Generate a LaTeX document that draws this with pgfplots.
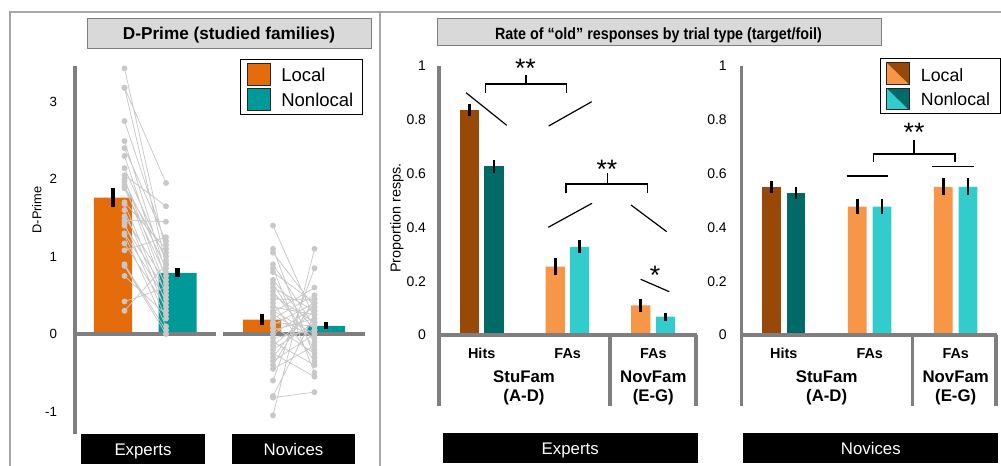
\documentclass[border=0pt]{standalone}
\usepackage{fontspec}
\setmainfont{Liberation Sans}
\newfontfamily\narrowfont[FakeStretch=0.88]{Liberation Sans}
\usepackage{pgfplots}
\pgfplotsset{compat=1.18}
\definecolor{orL}{HTML}{E46C0A}
\definecolor{tlL}{HTML}{009999}
\definecolor{hitL}{HTML}{984807}
\definecolor{hitN}{HTML}{006B66}
\definecolor{faL}{HTML}{F79646}
\definecolor{faN}{HTML}{33CCCC}
\definecolor{axg}{HTML}{7F7F7F}
\definecolor{ptg}{HTML}{C8C8C8}
\definecolor{frameg}{HTML}{A6A6A6}
\definecolor{titleg}{HTML}{D9D9D9}
\newcommand{\fs}[1]{\fontsize{#1}{#1}\selectfont}
\pgfplotsset{
  barL/.style={ybar, bar shift=0pt, draw=none,
    error bars/y dir=both, error bars/y explicit, error bars/error mark=none},
  eb/.style={error bars/error bar style={line width=#1, black}},
  panel/.style={anchor=south west, scale only axis, clip=false,
    axis line style={draw=none}, xtick=\empty, ytick pos=left,
    major tick length=0pt, /pgf/number format/assume math mode=true},
}
\tikzset{px/.style={x=0.75pt, y=-0.75pt, shift={(0pt,349.5pt)}}}
\begin{document}
\begin{tikzpicture}
\path[use as bounding box] (0pt,0pt) rectangle (750.75pt,349.5pt);
\fill[white] (0pt,0pt) rectangle (750.75pt,349.5pt);
\begin{scope}[px]
% frames
\draw[frameg, line width=1.1pt] (10,466) -- (10,12) -- (1001,12);
\draw[frameg, line width=1.1pt] (380,12) -- (380,466);
% titles
\draw[axg, fill=titleg, line width=0.75pt] (87,19) rectangle (371,49);
\node[anchor=base, inner sep=0] at (229,40) {\fs{12.9}\bfseries D-Prime (studied families)};
\draw[axg, fill=titleg, line width=0.75pt] (437,19) rectangle (881,46);
\node[anchor=base, inner sep=0] at (658.5,40) {\narrowfont\bfseries\fs{12.2}Rate of “old” responses by trial type (target/foil)};
\end{scope}

% ---------------- Left axis: D-prime ----------------
\begin{axis}[panel, at={(56.25pt,24pt)},
  width=225pt, height=276pt,
  xmin=75, xmax=375, ymin=-1.29, ymax=3.46,
  ytick={-1,0,1,2,3},
  yticklabel style={font=\fs{10}, xshift=-10pt},
  ylabel={D-Prime},
  ylabel style={font=\fs{9.6}, at={(axis description cs:-0.127,0.609)}, anchor=center}]
\draw[axg, line width=3pt] (axis cs:75,-1.29) -- (axis cs:75,3.46);
\addplot[barL, bar width=38, fill=orL, eb=3.2pt]
  coordinates {(113,1.76) +- (0,0.125) (262,0.185) +- (0,0.07)};
\addplot[barL, bar width=38, fill=tlL, eb=3.2pt]
  coordinates {(177.5,0.79) +- (0,0.06) (326,0.105) +- (0,0.045)};
\draw[axg, line width=3pt] (axis cs:75,0) -- (axis cs:216,0);
\draw[axg, line width=3pt] (axis cs:223,0) -- (axis cs:365,0);
% individual participants (experts)
\addplot[ptg, line width=0.55pt, mark=*, mark size=1.9pt,
  mark options={fill=ptg, draw=none}, unbounded coords=jump] coordinates {
(124.5,3.43) (166,1.05) (124.5,nan)
(124.5,3.18) (166,1.95) (124.5,nan)
(124.5,3.18) (166,0.90) (124.5,nan)
(124.5,2.75) (166,1.15) (124.5,nan)
(124.5,2.49) (166,0.80) (124.5,nan)
(124.5,2.40) (166,1.20) (124.5,nan)
(124.5,2.30) (166,0.70) (124.5,nan)
(124.5,2.14) (166,0.95) (124.5,nan)
(124.5,2.05) (166,1.65) (124.5,nan)
(124.5,2.00) (166,0.60) (124.5,nan)
(124.5,1.97) (166,0.85) (124.5,nan)
(124.5,1.93) (166,0.50) (124.5,nan)
(124.5,1.90) (166,1.00) (124.5,nan)
(124.5,1.88) (166,0.75) (124.5,nan)
(124.5,1.70) (166,1.10) (124.5,nan)
(124.5,1.68) (166,0.40) (124.5,nan)
(124.5,1.60) (166,0.30) (124.5,nan)
(124.5,1.52) (166,0.65) (124.5,nan)
(124.5,1.47) (166,1.45) (124.5,nan)
(124.5,1.43) (166,0.20) (124.5,nan)
(124.5,1.40) (166,0.55) (124.5,nan)
(124.5,1.30) (166,0.45) (124.5,nan)
(124.5,1.28) (166,0.10) (124.5,nan)
(124.5,1.17) (166,0.35) (124.5,nan)
(124.5,1.08) (166,1.25) (124.5,nan)
(124.5,0.90) (166,0.05) (124.5,nan)
(124.5,0.88) (166,0.00) (124.5,nan)
(124.5,0.75) (166,0.25) (124.5,nan)
(124.5,0.42) (166,0.60) (124.5,nan)
(124.5,0.30) (166,0.90)
};
% individual participants (novices)
\addplot[ptg, line width=0.55pt, mark=*, mark size=1.9pt,
  mark options={fill=ptg, draw=none}, unbounded coords=jump] coordinates {
(273,1.40) (314.5,0.20) (273,nan)
(273,1.10) (314.5,-0.30) (273,nan)
(273,1.05) (314.5,0.35) (273,nan)
(273,0.90) (314.5,0.10) (273,nan)
(273,0.85) (314.5,-0.50) (273,nan)
(273,0.80) (314.5,0.40) (273,nan)
(273,0.70) (314.5,0.05) (273,nan)
(273,0.65) (314.5,-0.20) (273,nan)
(273,0.60) (314.5,0.30) (273,nan)
(273,0.55) (314.5,-0.10) (273,nan)
(273,0.50) (314.5,0.15) (273,nan)
(273,0.45) (314.5,0.45) (273,nan)
(273,0.40) (314.5,-0.35) (273,nan)
(273,0.35) (314.5,0.25) (273,nan)
(273,0.30) (314.5,0.00) (273,nan)
(273,0.28) (314.5,0.60) (273,nan)
(273,0.25) (314.5,-0.05) (273,nan)
(273,0.20) (314.5,0.50) (273,nan)
(273,0.15) (314.5,0.10) (273,nan)
(273,0.10) (314.5,-0.25) (273,nan)
(273,0.05) (314.5,0.20) (273,nan)
(273,0.00) (314.5,0.35) (273,nan)
(273,-0.05) (314.5,0.05) (273,nan)
(273,-0.10) (314.5,-0.40) (273,nan)
(273,-0.15) (314.5,0.30) (273,nan)
(273,-0.20) (314.5,0.15) (273,nan)
(273,-0.25) (314.5,-0.55) (273,nan)
(273,-0.30) (314.5,0.40) (273,nan)
(273,-0.35) (314.5,0.00) (273,nan)
(273,-0.40) (314.5,0.45) (273,nan)
(273,-0.45) (314.5,-0.15) (273,nan)
(273,-0.60) (314.5,0.85) (273,nan)
(273,-0.80) (314.5,0.25) (273,nan)
(273,-0.82) (314.5,-0.75) (273,nan)
(273,-1.05) (314.5,1.10) (273,nan)
(273,0.12) (314.5,0.40)
};
\end{axis}

% ---------------- Middle axis: Experts proportions ----------------
\begin{axis}[panel, at={(329.25pt,45pt)},
  width=195.75pt, height=255pt,
  xmin=439, xmax=700, ymin=-0.2639, ymax=1,
  ytick={0,0.2,0.4,0.6,0.8,1}, yticklabels={0,0.2,0.4,0.6,0.8,1},
  yticklabel style={font=\fs{10.5}, xshift=-6.2pt},
  ylabel={Proportion resps.},
  ylabel style={font=\fs{10.8}, at={(axis description cs:-0.161,0.553)}, anchor=center}]
\addplot[barL, bar width=19.3, fill=hitL, eb=2.2pt]
  coordinates {(469.5,0.836) +- (0,0.022)};
\addplot[barL, bar width=19.3, fill=hitN, eb=2.2pt]
  coordinates {(494,0.628) +- (0,0.024)};
\addplot[barL, bar width=19.3, fill=faL, eb=2.2pt]
  coordinates {(555.3,0.254) +- (0,0.031) (640.8,0.110) +- (0,0.023)};
\addplot[barL, bar width=19.3, fill=faN, eb=2.2pt]
  coordinates {(579.5,0.328) +- (0,0.025) (665.5,0.068) +- (0,0.015)};
\draw[axg, line width=2.3pt] (axis cs:439,-0.2639) -- (axis cs:439,1);
\draw[axg, line width=2.3pt] (axis cs:439,0) -- (axis cs:697,0);
\draw[axg, line width=2.3pt] (axis cs:610,0) -- (axis cs:610,-0.2639);
\draw[axg, line width=2.3pt] (axis cs:696,0) -- (axis cs:696,-0.2639);
\end{axis}

% ---------------- Right axis: Novices proportions ----------------
\begin{axis}[panel, at={(556.275pt,45pt)},
  width=193.7pt, height=255pt,
  xmin=741.7, xmax=1000, ymin=-0.2639, ymax=1,
  ytick={0,0.2,0.4,0.6,0.8,1}, yticklabels={0,0.2,0.4,0.6,0.8,1},
  yticklabel style={font=\fs{10.5}, xshift=-7.7pt}]
\addplot[barL, bar width=18.8, fill=hitL, eb=2.2pt]
  coordinates {(771.7,0.551) +- (0,0.022)};
\addplot[barL, bar width=18.8, fill=hitN, eb=2.2pt]
  coordinates {(796,0.528) +- (0,0.022)};
\addplot[barL, bar width=18.8, fill=faL, eb=2.2pt]
  coordinates {(857.3,0.477) +- (0,0.029) (943.3,0.551) +- (0,0.031)};
\addplot[barL, bar width=18.8, fill=faN, eb=2.2pt]
  coordinates {(882,0.477) +- (0,0.029) (968,0.551) +- (0,0.032)};
\draw[axg, line width=2.3pt] (axis cs:741.7,-0.2639) -- (axis cs:741.7,1);
\draw[axg, line width=2.3pt] (axis cs:741.7,0) -- (axis cs:996.7,0);
\draw[axg, line width=2.3pt] (axis cs:912.3,0) -- (axis cs:912.3,-0.2639);
\draw[axg, line width=2.3pt] (axis cs:996,0) -- (axis cs:996,-0.2639);
\end{axis}

\begin{scope}[px]
% left legend
\draw[black, line width=0.75pt, fill=white] (240,60) rectangle (362,115);
\draw[black!85, line width=0.75pt, fill=orL] (247,64) rectangle (270,86);
\draw[black!85, line width=0.75pt, fill=tlL] (247,89) rectangle (270,111);
\node[anchor=base west, inner sep=0] at (281,81.7) {\fs{13.9}Local};
\node[anchor=base west, inner sep=0] at (281,107) {\fs{13.9}Nonlocal};

% category labels
\foreach \x/\t in {481.7/Hits, 567.7/FAs, 653.3/FAs, 783.8/Hits, 869.7/FAs, 955.7/FAs}
  \node[anchor=base, inner sep=0] at (\x,358.3) {\fs{10.8}\bfseries \t};
\foreach \x/\a/\b in {524/StuFam/(A-D), 653.3/NovFam/(E-G), 826.7/StuFam/(A-D), 955.7/NovFam/(E-G)}{
  \node[anchor=base, inner sep=0] at (\x,382.7) {\fs{12.6}\bfseries \a};
  \node[anchor=base, inner sep=0] at (\x,401.7) {\fs{12.6}\bfseries \b};
}

% significance annotations
\begin{scope}[line width=0.9pt, black]
\draw (466,92.7) -- (506.7,125.3);
\draw (548.7,126) -- (591.7,101.7);
\draw (485.7,92.7) -- (485.7,84) -- (566.7,84) -- (566.7,92.7);
\draw (526,84) -- (526,75);
\draw (548.3,227.3) -- (592,203.3);
\draw (631,205) -- (666.7,231.7);
\draw (566,193.3) -- (566,184) -- (647.7,184) -- (647.7,193.3);
\draw (607.3,184) -- (607.3,173.3);
\draw (640.7,279.3) -- (669.3,291.7);
\draw (846.7,176) -- (888.3,176);
\draw (932.3,166.7) -- (974.3,166.7);
\draw (873.3,162) -- (873.3,154) -- (955,154) -- (955,162);
\draw (914,154) -- (914,140);
\end{scope}
\node[anchor=base, inner sep=0] at (525.5,77.5) {\fs{20}**};
\node[anchor=base, inner sep=0] at (607,179) {\fs{20}**};
\node[anchor=base, inner sep=0] at (655,285) {\fs{20}*};
\node[anchor=base, inner sep=0] at (914,141.7) {\fs{20}**};

% right legend
\draw[black, line width=0.75pt, fill=white] (880,59) rectangle (1000,114);
\fill[faL] (886.7,62.7) -- (886.7,84.3) -- (909,84.3) -- cycle;
\fill[hitL] (886.7,62.7) -- (909,62.7) -- (909,84.3) -- cycle;
\draw[black!85, line width=0.75pt] (886.7,62.7) rectangle (909,84.3);
\fill[faN] (886.7,88.3) -- (886.7,110) -- (909,110) -- cycle;
\fill[hitN] (886.7,88.3) -- (909,88.3) -- (909,110) -- cycle;
\draw[black!85, line width=0.75pt] (886.7,88.3) rectangle (909,110);
\node[anchor=base west, inner sep=0] at (920.7,81.7) {\fs{13.3}Local};
\node[anchor=base west, inner sep=0] at (920.7,106) {\fs{13.3}Nonlocal};

% group boxes
\fill[black] (81,434) rectangle (205,464);
\node[anchor=base, inner sep=0, white] at (143,455.7) {\fs{12.6}Experts};
\fill[black] (232,434) rectangle (355,464);
\node[anchor=base, inner sep=0, white] at (293.5,455.7) {\fs{12.6}Novices};
\fill[black] (442.7,433.3) rectangle (697.7,463.3);
\node[anchor=base, inner sep=0, white] at (570.2,455) {\fs{12.6}Experts};
\fill[black] (743.3,433.3) rectangle (998.3,463.3);
\node[anchor=base, inner sep=0, white] at (870.8,455) {\fs{12.6}Novices};
\end{scope}
\end{tikzpicture}
\end{document}
